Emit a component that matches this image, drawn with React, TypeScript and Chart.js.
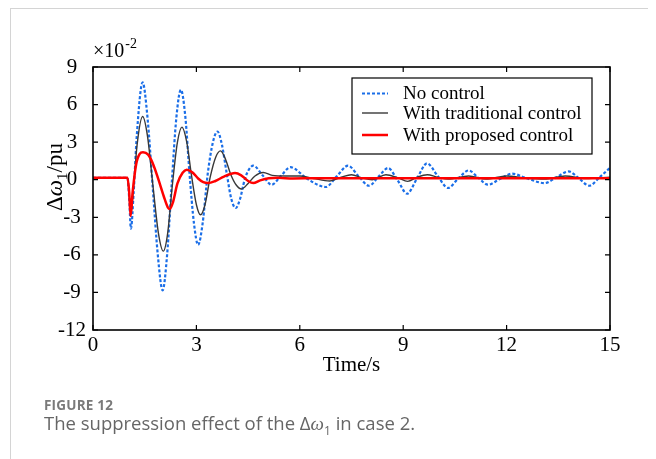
import React, { useEffect, useRef } from "react";
import { Chart, registerables } from "chart.js";
Chart.register(...registerables);

const xTickValues = [0, 3, 6, 9, 12, 15];
const yTickValues = [-12, -9, -6, -3, 0, 3, 6, 9];

const seriesLabels = ["No control", "With traditional control", "With proposed control"];

const noCtrlT = [0, 1.0, 1.05, 1.1, 1.18, 1.27, 1.44, 1.58, 1.73, 1.88, 2.02, 2.15, 2.28, 2.42, 2.55, 2.68, 2.8, 2.93, 3.05, 3.18, 3.33, 3.48, 3.61, 3.74, 3.88, 4.01, 4.14, 4.27, 4.4, 4.52, 4.65, 4.92, 5.18, 5.45, 5.73, 6.2, 6.75, 7.08, 7.4, 7.7, 8.01, 8.3, 8.56, 8.85, 9.11, 9.4, 9.69, 10.0, 10.3, 10.6, 10.9, 11.18, 11.46, 11.8, 12.16, 12.6, 13.1, 13.45, 13.8, 14.1, 14.4, 14.7, 15.0];
const noCtrlV = [0.15, 0.15, -1.5, -3.9, -1.0, 3.5, 7.77, 5.0, -0.5, -6.0, -8.83, -6.0, -0.5, 5.0, 7.18, 5.0, 0.5, -3.5, -5.2, -3.5, 0.5, 3.0, 3.85, 2.8, 0.5, -1.5, -2.26, -1.5, 0.0, 0.8, 1.12, 0.35, -0.4, 0.3, 1.0, 0.1, -0.58, 0.3, 1.12, 0.3, -0.48, 0.3, 0.93, -0.1, -1.12, 0.1, 1.3, 0.3, -0.66, 0.1, 0.74, 0.15, -0.4, 0.05, 0.48, 0.1, -0.27, 0.2, 0.66, 0.1, -0.48, 0.2, 0.95];

const tradT = [0, 1.0, 1.05, 1.1, 1.18, 1.28, 1.44, 1.58, 1.74, 1.9, 2.04, 2.17, 2.3, 2.45, 2.58, 2.72, 2.86, 3.0, 3.12, 3.25, 3.4, 3.56, 3.7, 3.85, 4.0, 4.15, 4.31, 4.5, 4.7, 4.94, 5.2, 5.6, 6.0, 6.4, 6.87, 7.2, 7.5, 7.8, 8.1, 8.5, 8.85, 9.13, 9.4, 9.7, 10.0, 10.3, 10.9, 11.4, 12.0, 12.5, 13.1, 13.7, 14.3, 15.0];
const tradV = [0.15, 0.15, -1.2, -2.8, -0.5, 2.8, 5.05, 3.5, -0.5, -4.3, -5.7, -4.2, -0.5, 3.0, 4.2, 3.0, 0.3, -2.0, -2.8, -2.0, 0.2, 1.8, 2.3, 1.6, 0.4, -0.4, -0.74, -0.3, 0.3, 0.58, 0.35, 0.3, 0.3, 0.1, -0.1, 0.2, 0.4, 0.15, 0.0, 0.4, 0.15, -0.13, 0.2, 0.4, 0.2, 0.05, 0.3, 0.05, 0.3, 0.15, 0.05, 0.3, 0.1, 0.2];

const propT = [0, 1.0, 1.05, 1.09, 1.15, 1.25, 1.35, 1.45, 1.6, 1.75, 1.9, 2.05, 2.17, 2.23, 2.32, 2.45, 2.6, 2.72, 2.88, 3.05, 3.2, 3.34, 3.55, 3.8, 4.12, 4.3, 4.5, 4.65, 4.85, 5.1, 5.37, 5.8, 6.5, 15.0];
const propV = [0.15, 0.15, -1.0, -2.9, -1.0, 1.2, 2.05, 2.2, 2.0, 1.2, 0.0, -1.3, -2.2, -2.34, -1.8, -0.3, 0.55, 0.8, 0.6, 0.1, -0.2, -0.27, -0.1, 0.25, 0.53, 0.35, -0.1, -0.27, -0.05, 0.12, 0.15, 0.1, 0.12, 0.12];

const SERIF = "'Liberation Serif', 'Times New Roman', serif";

const toPts = (t: number[], v: number[]) => t.map((x, i) => ({ x, y: v[i] }));

export default function App() {
  const ref = useRef<HTMLCanvasElement | null>(null);
  useEffect(() => {
    if (!ref.current) return;
    const deco = {
      id: "deco",
      afterDraw(chart: any) {
        const { ctx, chartArea: a, scales } = chart;
        const xs = scales.x, ys = scales.y;
        ctx.save();
        ctx.strokeStyle = "#000";
        ctx.lineWidth = 1.6;
        ctx.strokeRect(a.left, a.top, a.right - a.left, a.bottom - a.top);
        ctx.lineWidth = 1.2;
        const tl = 5;
        ctx.beginPath();
        xTickValues.forEach((v) => {
          const px = xs.getPixelForValue(v);
          ctx.moveTo(px, a.bottom); ctx.lineTo(px, a.bottom - tl);
          ctx.moveTo(px, a.top); ctx.lineTo(px, a.top + tl);
        });
        yTickValues.forEach((v) => {
          const py = ys.getPixelForValue(v);
          ctx.moveTo(a.left, py); ctx.lineTo(a.left + tl, py);
          ctx.moveTo(a.right, py); ctx.lineTo(a.right - tl, py);
        });
        ctx.stroke();

        // exponent label
        ctx.fillStyle = "#000";
        ctx.textBaseline = "alphabetic";
        ctx.textAlign = "left";
        ctx.font = `20px ${SERIF}`;
        const bx = a.left, by = a.top - 10;
        ctx.fillText("\u00d710", bx, by);
        const w1 = ctx.measureText("\u00d710").width;
        ctx.font = `14px ${SERIF}`;
        ctx.fillText("-2", bx + w1 + 1, by - 9);

        // x title
        ctx.font = `21px ${SERIF}`;
        ctx.textAlign = "center";
        ctx.textBaseline = "middle";
        ctx.fillText("Time/s", (a.left + a.right) / 2, 356);
        ctx.textAlign = "left";
        ctx.textBaseline = "alphabetic";

        // y title
        ctx.save();
        ctx.translate(51, 168);
        ctx.rotate(-Math.PI / 2);
        const parts = [
          { t: "\u0394", f: `23px ${SERIF}`, dy: 0 },
          { t: "\u03c9", f: `italic 23px ${SERIF}`, dy: 0 },
          { t: "1", f: `15px ${SERIF}`, dy: 5 },
          { t: "/pu", f: `23px ${SERIF}`, dy: 0 },
        ];
        let total = 0;
        parts.forEach((p) => { ctx.font = p.f; total += ctx.measureText(p.t).width; });
        let cx = -total / 2;
        parts.forEach((p) => {
          ctx.font = p.f;
          ctx.fillText(p.t, cx, p.dy);
          cx += ctx.measureText(p.t).width;
        });
        ctx.restore();

        // legend
        const lx = 341, ly = 69, lw = 240, lh = 76;
        ctx.fillStyle = "#fff";
        ctx.fillRect(lx, ly, lw, lh);
        ctx.strokeStyle = "#000";
        ctx.lineWidth = 1.2;
        ctx.strokeRect(lx, ly, lw, lh);
        const rows = [84.5, 104, 126];
        chart.data.datasets.forEach((ds: any, i: number) => {
          const y = rows[i];
          ctx.save();
          ctx.strokeStyle = ds.borderColor;
          ctx.lineWidth = ds.borderWidth;
          ctx.setLineDash(ds.borderDash || []);
          ctx.beginPath();
          ctx.moveTo(351, y); ctx.lineTo(377, y);
          ctx.stroke();
          ctx.restore();
          ctx.fillStyle = "#000";
          ctx.font = `19px ${SERIF}`;
          ctx.textBaseline = "middle";
          ctx.fillText(ds.label, 392, y + 1);
        });
        ctx.restore();
      },
    };
    const chart = new Chart(ref.current, {
      type: "line",
      data: {
        datasets: [
          { label: seriesLabels[0], data: toPts(noCtrlT, noCtrlV), borderColor: "#1a6ee8", borderWidth: 2.2, borderDash: [3, 2], pointRadius: 0, cubicInterpolationMode: "monotone", order: 3 },
          { label: seriesLabels[1], data: toPts(tradT, tradV), borderColor: "#383838", borderWidth: 1.4, pointRadius: 0, cubicInterpolationMode: "monotone", order: 2 },
          { label: seriesLabels[2], data: toPts(propT, propV), borderColor: "#ff0000", borderWidth: 2.5, pointRadius: 0, cubicInterpolationMode: "monotone", order: 1 },
        ],
      } as any,
      options: {
        responsive: false,
        animation: false,
        devicePixelRatio: 1,
        layout: { padding: { top: 58, right: 40, left: 0, bottom: 0 } },
        plugins: { legend: { display: false }, tooltip: { enabled: false } },
        scales: {
          x: {
            type: "linear", min: 0, max: 15,
            afterBuildTicks: (s: any) => { s.ticks = xTickValues.map((v) => ({ value: v })); },
            ticks: { font: { family: SERIF, size: 21 }, color: "#000", maxRotation: 0, padding: -5 },
            grid: { display: false },
            border: { display: false },
            afterFit: (s: any) => { s.height = 79; },
          },
          y: {
            type: "linear", min: -12, max: 9,
            afterBuildTicks: (s: any) => { s.ticks = yTickValues.map((v) => ({ value: v })); },
            ticks: { font: { family: SERIF, size: 21 }, color: "#000", padding: -1, crossAlign: "center" },
            grid: { display: false },
            border: { display: false },
            afterFit: (s: any) => { s.width = 82; },
          },
        },
      } as any,
      plugins: [deco],
    });
    return () => chart.destroy();
  }, []);

  return (
    <div style={{ position: "relative", marginLeft: 2, width: 639, height: 470, border: "1px solid #d4d4d4", boxSizing: "content-box" }}>
      <canvas ref={ref} width={639} height={400} style={{ position: "absolute", left: 0, top: 0, width: 639, height: 400 }} />
      <div style={{ position: "absolute", left: 33, top: 387, fontFamily: "'Open Sans', 'Noto Sans', sans-serif", fontWeight: 700, fontSize: 13.5, color: "#7a7a7a", letterSpacing: 0.2 }}>FIGURE 12</div>
      <div style={{ position: "absolute", left: 33, top: 401, fontFamily: "'Open Sans', 'Noto Sans', sans-serif", fontSize: 18.5, color: "#666", whiteSpace: "nowrap" }}>
        The suppression effect of the {"\u0394"}<i style={{ fontFamily: SERIF, fontSize: 19 }}>{"\u03c9"}</i><sub style={{ fontSize: 12 }}>1</sub> in case 2.
      </div>
    </div>
  );
}
